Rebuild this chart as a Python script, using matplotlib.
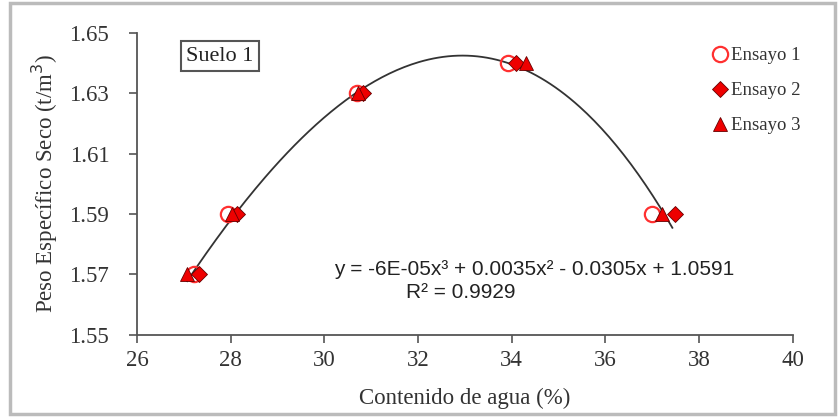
import numpy as np
import matplotlib
matplotlib.use('Agg')
import matplotlib.pyplot as plt
from matplotlib.patches import Rectangle

# Data
humedad_e1 = [27.22, 27.95, 30.69, 33.92, 37.0]
humedad_e2 = [27.32, 28.13, 30.82, 34.1, 37.48]
humedad_e3 = [27.07, 28.03, 30.72, 34.3, 37.2]
peso_seco = [1.57, 1.59, 1.63, 1.64, 1.59]

ecuacion = 'y = -6E-05x³ + 0.0035x² - 0.0305x + 1.0591'
r2_texto = 'R² = 0.9929'

serif = ['Liberation Serif', 'DejaVu Serif']
sans = ['Liberation Sans', 'DejaVu Sans']

fig = plt.figure(figsize=(8.38, 4.17), dpi=100)
ax = fig.add_axes([0.1635, 0.197, 0.7825, 0.724])

# cubic trend line fitted to all points
x_all = np.concatenate([humedad_e1, humedad_e2, humedad_e3])
y_all = np.concatenate([peso_seco, peso_seco, peso_seco])
coef = np.polyfit(x_all, y_all, 3)
xs = np.linspace(x_all.min(), x_all.max() - 0.05, 200)
ax.plot(xs, np.polyval(coef, xs), color='#333333', lw=1.3, zorder=1)

ax.plot(humedad_e1, peso_seco, 'o', ms=11, mfc='none', mec='#ff3030', mew=1.6,
        ls='none', label='Ensayo 1', zorder=3)
ax.plot(humedad_e2, peso_seco, 'D', ms=8, mfc='#ee0000', mec='#660000', mew=0.6,
        ls='none', label='Ensayo 2', zorder=4)
ax.plot(humedad_e3, peso_seco, '^', ms=10, mfc='#ee0000', mec='#660000', mew=0.6,
        ls='none', label='Ensayo 3', zorder=5)

ax.set_xlim(26, 40)
ax.set_ylim(1.55, 1.65)
ax.set_xticks(np.arange(26, 41, 2))
ax.set_yticks([1.55, 1.57, 1.59, 1.61, 1.63, 1.65])
ax.set_yticklabels(['1.55', '1.57', '1.59', '1.61', '1.63', '1.65'])
ax.spines['top'].set_visible(False)
ax.spines['right'].set_visible(False)
for s in ['left', 'bottom']:
    ax.spines[s].set_color('#555555')
    ax.spines[s].set_linewidth(1.3)
ax.tick_params(direction='out', length=6, width=1.2, color='#555555',
               labelsize=16.5)
ax.tick_params(axis='y', pad=14)
ax.tick_params(axis='x', pad=5)
for lab in ax.get_xticklabels() + ax.get_yticklabels():
    lab.set_family(serif)
    lab.set_color('#333333')

ax.set_xlabel('Contenido de agua (%)', family=serif, fontsize=16.5, color='#333333', labelpad=12)
ax.set_ylabel('Peso Específico Seco (t/m$^3$)', family=serif, fontsize=16.5, color='#333333', labelpad=7)

leg = ax.legend(loc='upper left', bbox_to_anchor=(0.855, 0.99), frameon=False,
                prop={'family': serif, 'size': 13.5}, handletextpad=0.0,
                handlelength=1.2, labelspacing=0.95, borderaxespad=0.2)
for t in leg.get_texts():
    t.set_color('#333333')

ax.text(0.075, 0.955, 'Suelo 1', transform=ax.transAxes, family=serif, fontsize=16,
        color='#222222', va='top', ha='left',
        bbox=dict(boxstyle='square,pad=0.25', fc='white', ec='#555555', lw=1.5))

ax.text(0.3, 0.215, ecuacion, transform=ax.transAxes, family=sans, fontsize=15,
        color='#222222', ha='left', va='center')
ax.text(0.41, 0.14, r2_texto, transform=ax.transAxes, family=sans, fontsize=15,
        color='#222222', ha='left', va='center')

# outer chart border
fig.patches.append(Rectangle((0.012, 0.006), 0.985, 0.988, transform=fig.transFigure,
                             fill=False, ec='#bbbbbb', lw=2.5))

fig.savefig('out.png', dpi=100)
